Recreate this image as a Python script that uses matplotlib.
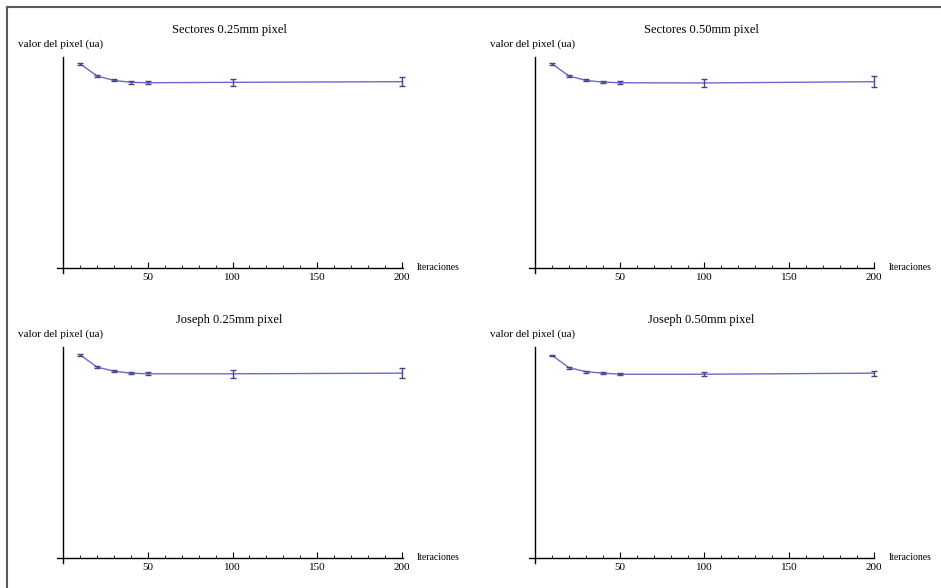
import matplotlib
matplotlib.use('Agg')
import matplotlib.pyplot as plt
from matplotlib.lines import Line2D
from matplotlib.ticker import MultipleLocator

plt.rcParams['font.family'] = ['Liberation Serif', 'DejaVu Serif']

# ==============================
# DATA
# ==============================

iteraciones = [10, 20, 30, 40, 50, 100, 200]

sect025 = [0.967, 0.910, 0.889, 0.880, 0.878, 0.880, 0.883]
sect025_err = [0.005, 0.005, 0.005, 0.006, 0.006, 0.016, 0.022]

sect050 = [0.967, 0.910, 0.889, 0.881, 0.878, 0.877, 0.883]
sect050_err = [0.005, 0.005, 0.005, 0.006, 0.006, 0.017, 0.025]

jos025 = [0.962, 0.905, 0.885, 0.876, 0.873, 0.873, 0.876]
jos025_err = [0.004, 0.005, 0.005, 0.006, 0.007, 0.019, 0.024]

jos050 = [0.960, 0.902, 0.883, 0.876, 0.871, 0.871, 0.876]
jos050_err = [0.004, 0.004, 0.004, 0.004, 0.005, 0.009, 0.012]

titles = ['Sectores 0.25mm pixel', 'Sectores 0.50mm pixel',
          'Joseph 0.25mm pixel', 'Joseph 0.50mm pixel']
series = [(sect025, sect025_err), (sect050, sect050_err),
          (jos025, jos025_err), (jos050, jos050_err)]

# ==============================
# FIGURE
# ==============================

fig = plt.figure(figsize=(9.41, 5.88), dpi=100)

w = 0.3675
h = 0.3673
positions = [[0.0603, 0.5357, w, h], [0.5618, 0.5357, w, h],
             [0.0603, 0.0425, w, h], [0.5618, 0.0425, w, h]]

line_col = '#6b6bc9'
err_col = '#45458a'

for pos, title, (vals, errs) in zip(positions, titles, series):
    ax = fig.add_axes(pos)
    ax.plot(iteraciones, vals, color=line_col, lw=1.0, clip_on=False)
    ax.errorbar(iteraciones, vals, yerr=errs, fmt='none', ecolor=err_col,
                elinewidth=1.0, capsize=2, capthick=1.0, clip_on=False)

    ax.set_xlim(-3.9, 200.5)
    ax.set_ylim(-0.025, 1.0)

    ax.spines['left'].set_position(('data', 0))
    ax.spines['bottom'].set_position(('data', 0))
    ax.spines['right'].set_visible(False)
    ax.spines['top'].set_visible(False)
    for s in ['left', 'bottom']:
        ax.spines[s].set_linewidth(1.0)

    ax.set_yticks([])
    ax.xaxis.set_minor_locator(MultipleLocator(10))
    ax.set_xticks([50, 100, 150, 200])
    ax.tick_params(axis='x', which='major', direction='in', length=4,
                   width=0.8, labelsize=8, pad=4)
    ax.tick_params(axis='x', which='minor', direction='in', length=2.5,
                   width=0.6)

    ax.annotate(title, xy=(0.5, 1), xycoords='axes fraction', xytext=(0, 19.5),
                textcoords='offset points', ha='center', va='center',
                fontsize=9)
    ax.annotate('valor del pixel (ua)', xy=(0, 1.0), xycoords='data',
                xytext=(-2, 9), textcoords='offset points', ha='center',
                va='center', fontsize=8)
    ax.annotate('Iteraciones', xy=(1.0, 0), xycoords=('axes fraction', 'data'),
                xytext=(10, 0), textcoords='offset points', ha='left',
                va='center', fontsize=7)

# outer frame (left and top)
fig.add_artist(Line2D([0.0078, 0.0078], [0, 0.988], color='#5a5a5a', lw=1.5))
fig.add_artist(Line2D([0.0078, 1], [0.988, 0.988], color='#5a5a5a', lw=1.5))

fig.savefig('out.png', dpi=100)
